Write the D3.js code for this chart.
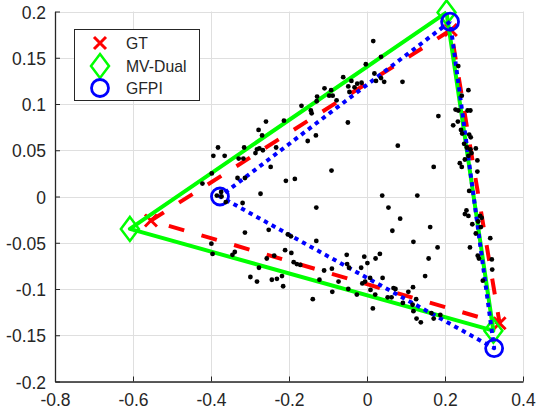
<!DOCTYPE html>
<html>
<head>
<meta charset="utf-8">
<script src="https://cdn.jsdelivr.net/npm/d3@7"></script>
<style>
  html, body { margin: 0; padding: 0; background: #fff; }
  svg { display: block; font-family: "Liberation Sans", Arial, Helvetica, sans-serif; }
</style>
</head>
<body>
<svg id="chart" width="537" height="410"></svg>
<script>
// ---- data ----
const xTicks = [-0.8, -0.6, -0.4, -0.2, 0, 0.2, 0.4];
const yTicks = [-0.2, -0.15, -0.1, -0.05, 0, 0.05, 0.1, 0.15, 0.2];
const seriesNames = ["GT", "MV-Dual", "GFPI"];

const gtX = [0.215, -0.554, 0.340];
const gtY = [0.180, -0.026, -0.137];
const mvX = [0.204, -0.608, 0.324];
const mvY = [0.199, -0.035, -0.145];
const gfX = [0.213, -0.377, 0.326];
const gfY = [0.189, 0.000, -0.164];

const dotsX = [-0.422,-0.398,-0.394,-0.382,-0.365,-0.332,-0.329,-0.317,-0.315,-0.313,
  -0.286,-0.282,-0.276,-0.267,-0.278,-0.269,-0.259,-0.247,-0.233,-0.213,
  -0.208,-0.185,-0.168,-0.152,-0.144,-0.142,0.016,0.036,-0.003,0.019,
  0.023,0.036,0.044,0.091,-0.061,-0.040,-0.048,-0.032,-0.025,-0.014,
  -0.045,-0.109,-0.092,-0.097,-0.088,-0.128,-0.129,-0.078,-0.049,-0.131,
  0.079,-0.091,0.234,0.260,0.243,0.227,0.234,0.258,0.265,0.183,
  0.233,0.221,0.241,0.244,0.262,0.266,0.249,0.256,0.265,0.279,
  0.268,0.260,0.251,0.283,0.238,0.243,0.171,0.283,0.262,0.039,
  0.129,-0.130,0.055,0.085,0.065,0.162,0.119,0.181,0.158,0.149,
  0.118,0.106,0.126,0.117,0.119,0.127,0.138,0.165,0.171,0.188,
  -0.385,-0.374,-0.373,-0.362,-0.319,-0.273,-0.313,-0.252,-0.399,-0.396,
  -0.345,-0.339,-0.257,-0.238,-0.210,-0.194,-0.203,-0.195,-0.188,-0.180,
  -0.171,-0.277,-0.299,-0.282,-0.244,-0.231,-0.218,-0.215,-0.139,-0.130,
  -0.052,-0.051,-0.046,-0.110,-0.090,-0.122,-0.073,-0.089,-0.048,-0.026,
  -0.015,-0.007,0.001,-0.012,-0.005,0.008,0.009,0.022,0.033,0.040,
  0.021,0.015,0.053,0.063,0.068,0.073,0.092,0.255,0.251,0.260,
  0.270,0.290,0.294,0.285,0.292,0.279,0.316,0.264,0.284,0.287,
  0.320,0.321,0.297];
const dotsY = [0.014,0.025,0.044,0.053,0.044,0.020,0.041,0.041,0.053,0.020,
  0.047,0.051,0.052,0.050,0.072,0.066,0.081,0.032,0.053,0.082,
  0.017,0.019,0.098,0.060,0.093,0.090,0.168,0.151,0.143,0.133,
  0.125,0.128,0.124,0.124,0.129,0.125,0.119,0.118,0.122,0.123,
  0.113,0.117,0.115,0.109,0.109,0.108,0.103,0.104,0.080,0.066,
  0.055,0.028,0.141,0.115,0.109,0.094,0.093,0.093,0.093,0.087,
  0.081,0.077,0.072,0.068,0.067,0.064,0.057,0.053,0.051,0.052,
  0.047,0.044,0.040,0.039,0.036,0.032,0.032,0.027,0.006,0.001,
  0.001,-0.012,-0.012,-0.024,-0.037,-0.033,-0.049,-0.055,-0.067,-0.086,
  -0.098,-0.103,-0.111,-0.117,-0.124,-0.132,-0.136,-0.126,-0.132,-0.128,
  0.001,0.005,0.000,-0.006,-0.007,0.003,-0.039,-0.036,-0.051,-0.062,
  -0.063,-0.060,-0.067,-0.064,-0.058,-0.061,-0.041,-0.043,-0.071,-0.073,
  -0.074,-0.077,-0.087,-0.092,-0.090,-0.089,-0.086,-0.097,-0.111,-0.048,
  -0.063,-0.073,-0.077,-0.080,-0.078,-0.090,-0.092,-0.103,-0.100,-0.106,
  -0.077,-0.065,-0.072,-0.094,-0.092,-0.088,-0.101,-0.067,-0.062,-0.088,
  -0.106,-0.121,-0.109,-0.109,-0.099,-0.100,-0.115,-0.015,-0.019,-0.021,
  -0.030,-0.021,-0.023,-0.027,-0.033,-0.040,-0.045,-0.055,-0.064,-0.067,
  -0.068,-0.079,-0.091];

// ---- layout ----
const svg = d3.select("#chart");
const L = 55, R = 523, T = 11.5, B = 381.5;
const x = d3.scaleLinear().domain([-0.8, 0.4]).range([L, R]);
const y = d3.scaleLinear().domain([-0.2, 0.2]).range([B, T]);
const axisColor = "#262626";
const fmt = d => (Math.abs(d) < 1e-9 ? "0" : String(+d.toFixed(2)));

// grid
const grid = svg.append("g").attr("stroke", "#dfdfdf").attr("stroke-width", 1);
grid.selectAll("line.gx").data(xTicks).enter().append("line")
  .attr("x1", d => Math.round(x(d)) + 0.5).attr("x2", d => Math.round(x(d)) + 0.5)
  .attr("y1", T).attr("y2", B);
grid.selectAll("line.gy").data(yTicks).enter().append("line")
  .attr("y1", d => Math.round(y(d)) + 0.5).attr("y2", d => Math.round(y(d)) + 0.5)
  .attr("x1", L).attr("x2", R);

// triangles
const styles = [
  { xs: gtX, ys: gtY, color: "#ff0000", dash: "16 18", marker: "x" },
  { xs: mvX, ys: mvY, color: "#00ff00", dash: null, marker: "d" },
  { xs: gfX, ys: gfY, color: "#0000ff", dash: "4.3 4.4", marker: "o" }
];
const lineGen = d3.line().x(d => x(d[0])).y(d => y(d[1]));

function drawMarker(g, type, cx, cy, color) {
  if (type === "x") {
    const s = 6;
    g.append("path").attr("d", `M${cx - s},${cy - s}L${cx + s},${cy + s}M${cx - s},${cy + s}L${cx + s},${cy - s}`)
      .attr("stroke", color).attr("stroke-width", 3).attr("fill", "none");
  } else if (type === "d") {
    const w = 9, h = 12;
    g.append("path").attr("d", `M${cx},${cy - h}L${cx + w},${cy}L${cx},${cy + h}L${cx - w},${cy}Z`)
      .attr("stroke", color).attr("stroke-width", 2.5).attr("fill", "none");
  } else {
    g.append("circle").attr("cx", cx).attr("cy", cy).attr("r", 8.5)
      .attr("stroke", color).attr("stroke-width", 2.8).attr("fill", "none");
  }
}

styles.forEach(s => {
  const pts = s.xs.map((v, i) => [v, s.ys[i]]);
  pts.push(pts[0]);
  const g = svg.append("g");
  g.append("path").attr("d", lineGen(pts))
    .attr("fill", "none").attr("stroke", s.color).attr("stroke-width", 4)
    .attr("stroke-dasharray", s.dash).attr("stroke-linejoin", "round");
  s.xs.forEach((v, i) => drawMarker(g, s.marker, x(v), y(s.ys[i]), s.color));
});

// data points
svg.append("g").selectAll("circle").data(dotsX).enter().append("circle")
  .attr("cx", (d) => x(d)).attr("cy", (d, i) => y(dotsY[i])).attr("r", 2.4).attr("fill", "#000");

// axes
const ax = svg.append("g").attr("transform", `translate(0,${B})`)
  .call(d3.axisBottom(x).tickValues(xTicks).tickFormat(fmt).tickSizeInner(-5).tickSizeOuter(0).tickPadding(12));
const ay = svg.append("g").attr("transform", `translate(${L},0)`)
  .call(d3.axisLeft(y).tickValues(yTicks).tickFormat(fmt).tickSizeInner(-5).tickSizeOuter(0).tickPadding(9));
[ax, ay].forEach(a => {
  a.select(".domain").attr("stroke", axisColor).attr("stroke-width", 1.3);
  a.selectAll(".tick line").attr("stroke", axisColor).attr("stroke-width", 1);
  a.selectAll(".tick text").attr("fill", axisColor).style("font-size", "17.5px")
    .style("font-family", '"Liberation Sans", Arial, sans-serif');
});
ay.selectAll(".tick text").attr("dy", "0.38em");

// legend
const lg = svg.append("g");
lg.append("rect").attr("x", 74.5).attr("y", 29.5).attr("width", 125).attr("height", 71)
  .attr("fill", "#fff").attr("stroke", axisColor).attr("stroke-width", 1);
const legendY = [43, 66, 88];
seriesNames.forEach((name, i) => {
  drawMarker(lg, styles[i].marker, 100, legendY[i], styles[i].color);
  lg.append("text").attr("x", 126).attr("y", legendY[i]).attr("dy", "0.36em")
    .attr("fill", axisColor).style("font-size", "15.75px").text(name);
});
</script>
</body>
</html>
